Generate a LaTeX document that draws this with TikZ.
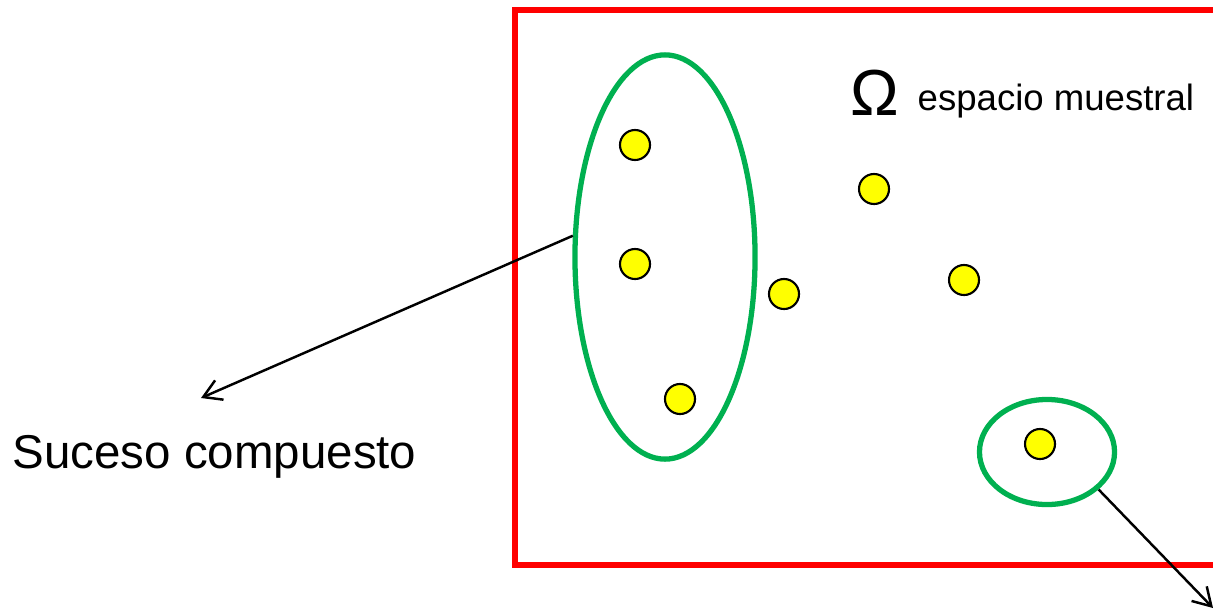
\documentclass[tikz,border=0pt]{standalone}
\usepackage{fontspec}
\setmainfont{Liberation Sans}
\usetikzlibrary{arrows.meta,shapes.geometric}
\definecolor{redframe}{HTML}{FF0000}
\definecolor{greenset}{HTML}{00B050}
\definecolor{yellowpt}{HTML}{FFFF00}
\tikzset{
  outcome/.style={circle,draw=black,fill=yellowpt,line width=0.6pt,
    minimum size=0.3cm,inner sep=0pt},
  eventset/.style={ellipse,draw=greenset,line width=1.5pt,inner sep=0pt},
  arr/.style={-{Straight Barb[length=5pt,width=6pt]},draw=black,line width=0.7pt},
  lbl/.style={inner sep=0pt,anchor=base west},
}

\begin{document}
\begin{tikzpicture}[x=0.01cm,y=-0.01cm]
    \useasboundingbox (0,0) rectangle (1213,609);
    \clip (0,0) rectangle (1213,609);
    \draw[draw=redframe,line width=1.5pt] (515,10) rectangle (1260,565);
    \node[eventset,minimum width=1.8cm,minimum height=4.04cm] (big) at (665,257) {};
    \node[eventset,minimum width=1.35cm,minimum height=1.05cm] (small) at (1047,452) {};
    \node[outcome] (o1) at (635,145) {};
    \node[outcome] (o2) at (635,264) {};
    \node[outcome] (o3) at (680,399) {};
    \node[outcome] (o4) at (784,294) {};
    \node[outcome] (o5) at (874,189) {};
    \node[outcome] (o6) at (964,280) {};
    \node[outcome] (o7) at (1040,444) {};
    \node[lbl,font=\fontsize{18.5}{22}\selectfont] (om) at (850,115) {Ω};
    \node[lbl,font=\fontsize{10.4}{12}\selectfont] (esp) at (917,110) {espacio muestral};
    \node[lbl,font=\fontsize{13.5}{16}\selectfont] (comp) at (12,468) {Suceso compuesto};
    \coordinate (tipa) at (201,398);
    \coordinate (tipb) at (1213,608);
    \draw[arr] (big.167) -- (tipa);
    \draw[arr] (small.-36) -- (tipb);
\end{tikzpicture}
\end{document}
